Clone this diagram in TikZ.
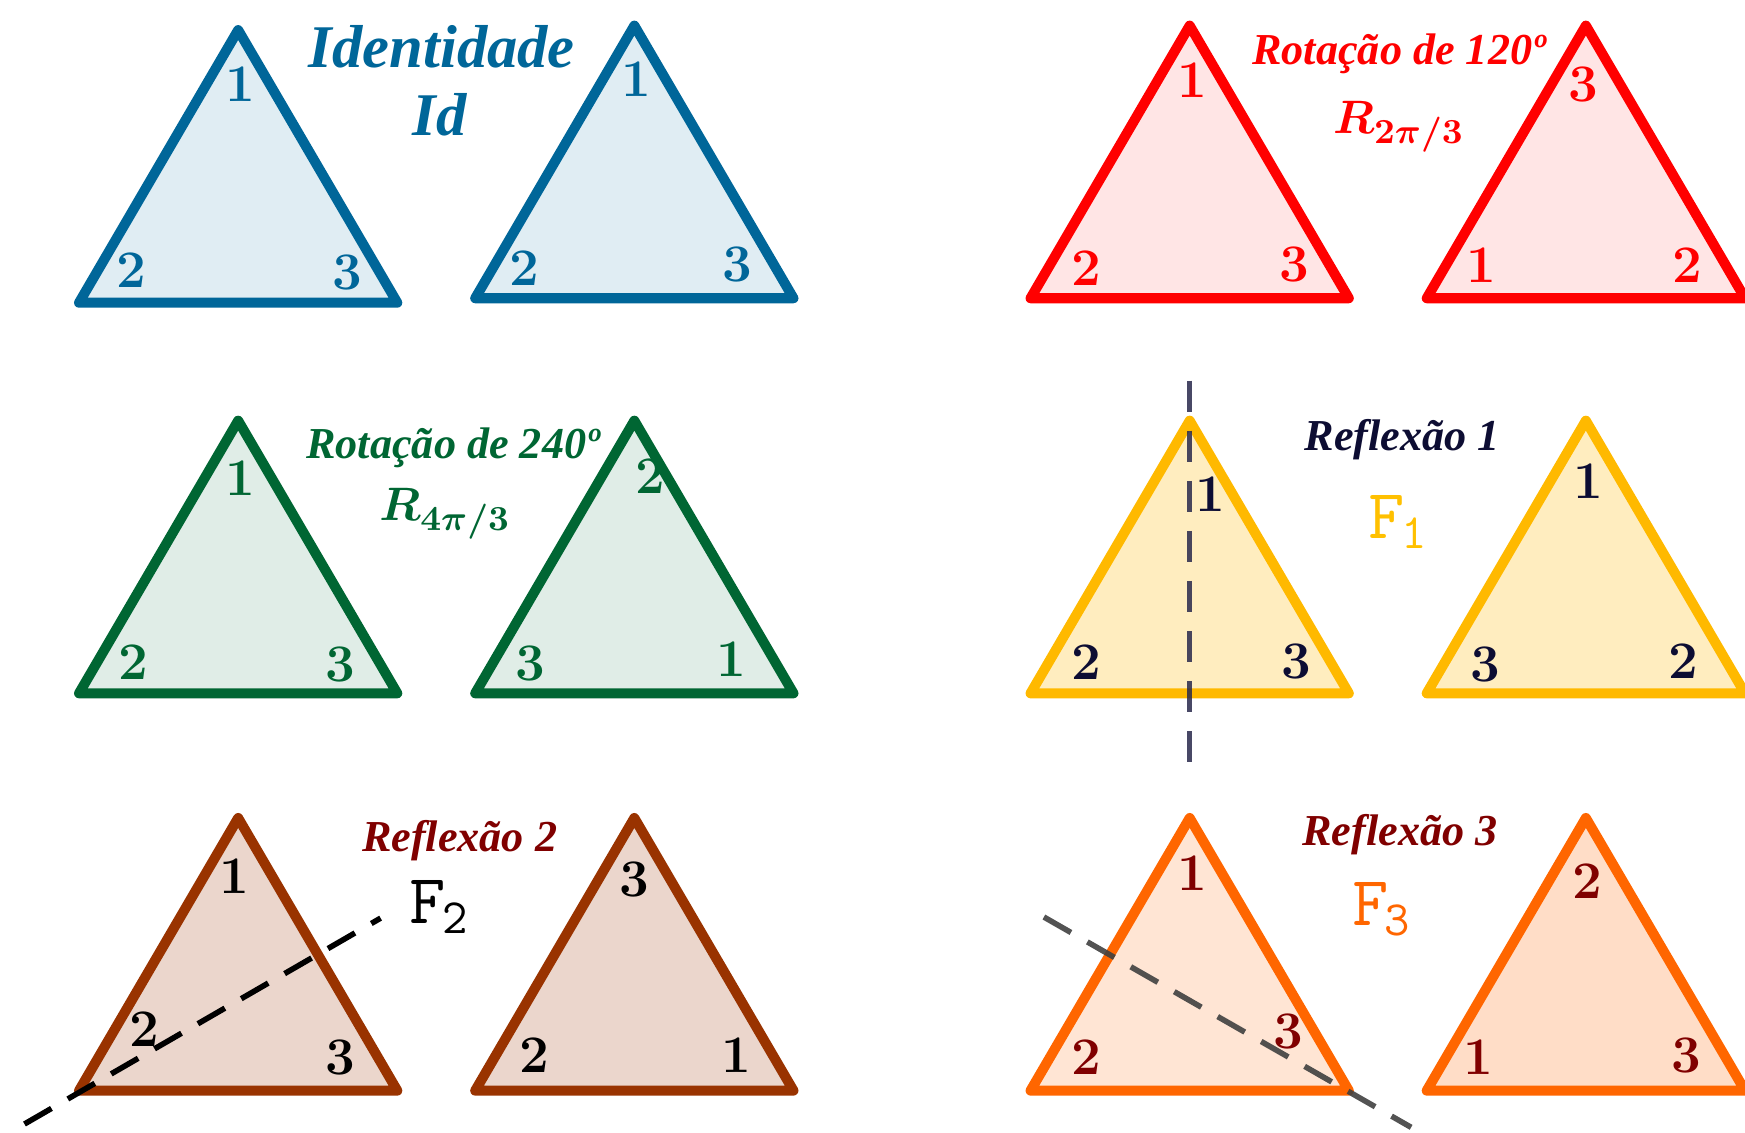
\documentclass[tikz,border=0pt]{standalone}
\usepackage{fontspec}
\newfontfamily\titlefont{Liberation Serif}
\usetikzlibrary{calc}

\definecolor{idblue}{RGB}{0,102,153}
\definecolor{rotred}{RGB}{255,0,0}
\definecolor{rotgreen}{RGB}{0,102,51}
\definecolor{flipyellow}{RGB}{255,185,0}
\definecolor{flipbrown}{RGB}{153,51,0}
\definecolor{fliporange}{RGB}{255,102,0}
\definecolor{navy}{RGB}{13,13,51}
\definecolor{darkred}{RGB}{128,0,0}
\definecolor{gold}{RGB}{255,192,0}
\definecolor{axisnavy}{RGB}{40,40,75}

\tikzset{
  tri/.style={line width=0.9mm, line join=round, draw=#1},
  num/.style={font=\fontsize{13.5}{14}\selectfont\bfseries, inner sep=0pt},
  bigtitle/.style={font=\fontsize{15.5}{16}\selectfont\titlefont\bfseries\itshape, inner sep=0pt},
  title/.style={font=\fontsize{11.3}{12}\selectfont\titlefont\bfseries\itshape, inner sep=0pt},
  mapname/.style={font=\fontsize{12.5}{13}\selectfont\boldmath, inner sep=0pt},
  flipname/.style={font=\fontsize{18}{18}\selectfont\ttfamily, inner sep=0pt},
  axis/.style={line width=0.5mm, dash pattern=on 2.8mm off 1.7mm}
}

\begin{document}
\begin{tikzpicture}[x=0.1mm, y=-0.1mm]
    \useasboundingbox (0,0) rectangle (1568,1018);

    % Triangles: name / apex x / apex y / colour / fill strength
    \foreach \n/\x/\y/\c/\f in {idL/214/27/idblue/12, idR/570/23/idblue/12,
        raL/1069/23/rotred/10, raR/1425/23/rotred/10,
        rbL/214/378/rotgreen/12, rbR/570/378/rotgreen/12,
        faL/1069/378/flipyellow/25, faR/1425/378/flipyellow/25,
        fbL/214/735/flipbrown/20, fbR/570/735/flipbrown/20,
        fcL/1069/735/fliporange/17, fcR/1425/735/fliporange/22} {
        \coordinate (\n-a) at (\x,\y);
        \coordinate (\n-l) at ($(\n-a)+(-143,245)$);
        \coordinate (\n-r) at ($(\n-a)+(143,245)$);
        \draw[tri=\c, fill=\c!\f] (\n-a) -- (\n-l) -- (\n-r) -- cycle;
    }

    % Mirror axes
    \coordinate (axA1) at (1069,342);
    \coordinate (axA2) at (1069,685);
    \draw[axis, axisnavy, opacity=0.85] (axA1) -- (axA2);
    \coordinate (axB1) at (22,1010);
    \coordinate (axB2) at (342,825);
    \draw[axis, black] (axB1) -- (axB2);
    \coordinate (axC1) at (938,824);
    \coordinate (axC2) at (1268,1013);
    \draw[axis, black!75, opacity=0.9] (axC1) -- (axC2);

    % Identity
    \node[bigtitle, idblue] (idT) at (397,42) {Identidade};
    \node[bigtitle, idblue] (idS) at (395,103) {Id};
    \node[num, idblue] (idL-1) at (216,76) {1};
    \node[num, idblue] (idL-2) at (118,243) {2};
    \node[num, idblue] (idL-3) at (312,245) {3};
    \node[num, idblue] (idR-1) at (572,71) {1};
    \node[num, idblue] (idR-2) at (471,241) {2};
    \node[num, idblue] (idR-3) at (663,238) {3};

    % Rotation by 120
    \node[title, rotred] (raT) at (1257,48) {Rotação de 120º};
    \node[mapname, rotred] (raS) at (1257,114) {$R_{2\pi/3}$};
    \node[num, rotred] (raL-1) at (1071,72) {1};
    \node[num, rotred] (raL-2) at (976,241) {2};
    \node[num, rotred] (raL-3) at (1163,238) {3};
    \node[num, rotred] (raR-3) at (1423,76) {3};
    \node[num, rotred] (raR-1) at (1331,238) {1};
    \node[num, rotred] (raR-2) at (1516,238) {2};

    % Rotation by 240
    \node[title, rotgreen] (rbT) at (407,402) {Rotação de 240º};
    \node[mapname, rotgreen] (rbS) at (400,462) {$R_{4\pi/3}$};
    \node[num, rotgreen] (rbL-1) at (216,430) {1};
    \node[num, rotgreen] (rbL-2) at (120,595) {2};
    \node[num, rotgreen] (rbL-3) at (306,597) {3};
    \node[num, rotgreen] (rbR-2) at (584,428) {2};
    \node[num, rotgreen] (rbR-3) at (477,596) {3};
    \node[num, rotgreen] (rbR-1) at (657,592) {1};

    % Reflection 1
    \node[title, navy] (faT) at (1260,395) {Reflexão 1};
    \node[flipname, gold] (faS) at (1257,469) {F\kern-0.05em\textsubscript{1}};
    \node[num, navy] (faL-1) at (1088,444) {1};
    \node[num, navy] (faL-2) at (976,595) {2};
    \node[num, navy] (faL-3) at (1165,594) {3};
    \node[num, navy] (faR-1) at (1427,432) {1};
    \node[num, navy] (faR-3) at (1335,597) {3};
    \node[num, navy] (faR-2) at (1513,594) {2};

    % Reflection 2
    \node[title, darkred] (fbT) at (413,755) {Reflexão 2};
    \node[flipname, black] (fbS) at (395,815) {F\kern-0.05em\textsubscript{2}};
    \node[num, black] (fbL-1) at (211,787) {1};
    \node[num, black] (fbL-2) at (130,925) {2};
    \node[num, black] (fbL-3) at (306,950) {3};
    \node[num, black] (fbR-3) at (570,790) {3};
    \node[num, black] (fbR-2) at (480,948) {2};
    \node[num, black] (fbR-1) at (662,948) {1};

    % Reflection 3
    \node[title, darkred] (fcT) at (1258,750) {Reflexão 3};
    \node[flipname, fliporange] (fcS) at (1242,817) {F\kern-0.05em\textsubscript{3}};
    \node[num, darkred] (fcL-1) at (1071,785) {1};
    \node[num, darkred] (fcL-2) at (976,950) {2};
    \node[num, darkred] (fcL-3) at (1158,927) {3};
    \node[num, darkred] (fcR-2) at (1426,792) {2};
    \node[num, darkred] (fcR-1) at (1328,950) {1};
    \node[num, darkred] (fcR-3) at (1515,948) {3};
\end{tikzpicture}
\end{document}
